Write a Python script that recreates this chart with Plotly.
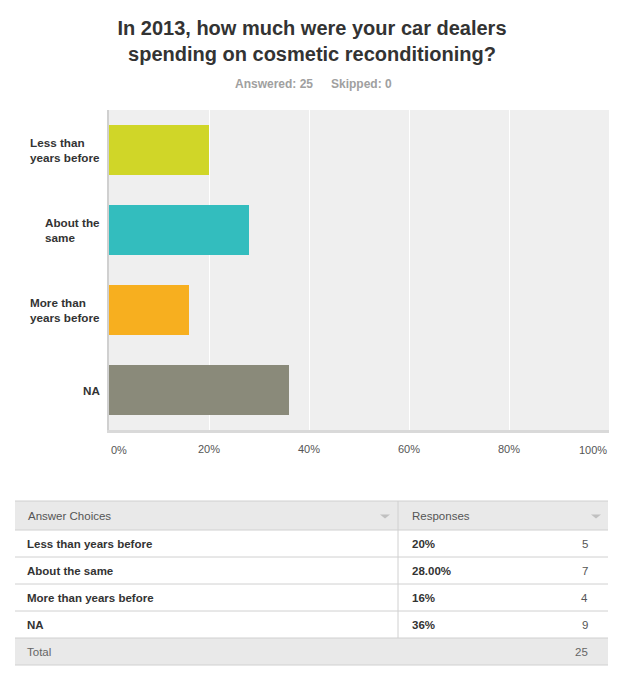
import plotly.graph_objects as go

# --- survey data ---
choices = ["Less than years before", "About the same", "More than years before", "NA"]
axis_labels = ["Less than<br>years before", "About the<br>same", "More than<br>years before", "NA"]
percents = [20, 28, 16, 36]
percent_text = ["20%", "28.00%", "16%", "36%"]
counts = [5, 7, 4, 9]
answered = 25
skipped = 0
bar_colors = ["#d0d628", "#33bdbe", "#f7af1f", "#8a8a7a"]
x_ticks = [0, 20, 40, 60, 80, 100]

# the page body has an 8px margin, so the figure starts at (8, 8)
OFF = 8
W, H = 628 - OFF, 683 - OFF
FONT = "Arial, Liberation Sans, sans-serif"


# screen pixel -> paper helpers (margins are zero, so paper == whole figure)
def px(x):
    return (x - OFF) / W


def py(y):
    return 1 - (y - OFF) / H


fig = go.Figure()
fig.add_trace(go.Bar(
    x=percents,
    y=choices,
    orientation="h",
    width=0.625,
    marker=dict(color=bar_colors, line=dict(width=0)),
    hoverinfo="skip",
))

annotations = []
shapes = []

# --- category labels, left aligned blocks ---
for cat, lab in zip(choices, axis_labels):
    annotations.append(dict(
        x=px(102), xref="paper", y=cat, yref="y",
        text=lab, showarrow=False, xanchor="right", yanchor="middle", align="left",
        font=dict(family=FONT, size=11.7, color="#333333", weight="bold"),
    ))

# end tick labels (first left aligned, last right aligned)
tick_font = dict(family=FONT, size=11, color="#555555")
annotations.append(dict(x=x_ticks[0], xref="x", y=py(450), yref="paper", text=f"{x_ticks[0]}%",
                        showarrow=False, xanchor="left", yanchor="middle", font=tick_font))
annotations.append(dict(x=x_ticks[-1], xref="x", y=py(450), yref="paper", text=f"{x_ticks[-1]}%",
                        showarrow=False, xanchor="right", yanchor="middle", font=tick_font))

# --- subtitle ---
annotations.append(dict(x=px(315), y=py(84), xref="paper", yref="paper", text=f"Answered: {answered}",
                        showarrow=False, xanchor="right", yanchor="middle",
                        font=dict(family=FONT, size=12, color="#a0a0a0", weight="bold")))
annotations.append(dict(x=px(329), y=py(84), xref="paper", yref="paper", text=f"Skipped: {skipped}",
                        showarrow=False, xanchor="left", yanchor="middle",
                        font=dict(family=FONT, size=12, color="#a0a0a0", weight="bold")))

# --- table below the chart ---
t_left, t_right, t_div = 15, 608, 398
head_top, head_bot = 501, 530
row_h = 27
line_col = "#d0d0d0"
head_fill = "#e9e9e9"

shapes.append(dict(type="rect", xref="paper", yref="paper", x0=px(t_left), x1=px(t_right),
                   y0=py(head_top), y1=py(head_bot), fillcolor=head_fill, line=dict(width=0), layer="below"))
total_top = head_bot + row_h * len(choices)
total_bot = total_top + row_h
shapes.append(dict(type="rect", xref="paper", yref="paper", x0=px(t_left), x1=px(t_right),
                   y0=py(total_top), y1=py(total_bot), fillcolor=head_fill, line=dict(width=0), layer="below"))

for yy in [head_top, head_bot] + [head_bot + row_h * (i + 1) for i in range(len(choices))] + [total_bot]:
    shapes.append(dict(type="line", xref="paper", yref="paper", x0=px(t_left), x1=px(t_right),
                       y0=py(yy), y1=py(yy), line=dict(color=line_col, width=1)))
shapes.append(dict(type="line", xref="paper", yref="paper", x0=px(t_div), x1=px(t_div),
                   y0=py(head_top), y1=py(total_top), line=dict(color=line_col, width=1)))

head_mid = (head_top + head_bot) / 2
annotations.append(dict(x=px(26), y=py(head_mid), xref="paper", yref="paper", text="Answer Choices",
                        showarrow=False, xanchor="left", yanchor="middle",
                        font=dict(family=FONT, size=11.5, color="#555555")))
annotations.append(dict(x=px(410), y=py(head_mid), xref="paper", yref="paper", text="Responses",
                        showarrow=False, xanchor="left", yanchor="middle",
                        font=dict(family=FONT, size=11.5, color="#555555")))
# sort arrows in the header
for tx in (385, 596):
    x0, x1, xm = px(tx - 5), px(tx + 5), px(tx)
    ya, yb = py(head_mid - 1), py(head_mid + 3)
    shapes.append(dict(type="path", xref="paper", yref="paper",
                       path=f"M {x0} {ya} L {x1} {ya} L {xm} {yb} Z",
                       fillcolor="#c0c0c0", line=dict(width=0)))

for i, (name, ptxt, cnt) in enumerate(zip(choices, percent_text, counts)):
    mid = head_bot + row_h * i + row_h / 2
    annotations.append(dict(x=px(25), y=py(mid), xref="paper", yref="paper", text=name,
                            showarrow=False, xanchor="left", yanchor="middle",
                            font=dict(family=FONT, size=11.5, color="#333333", weight="bold")))
    annotations.append(dict(x=px(410), y=py(mid), xref="paper", yref="paper", text=ptxt,
                            showarrow=False, xanchor="left", yanchor="middle",
                            font=dict(family=FONT, size=11.5, color="#333333", weight="bold")))
    annotations.append(dict(x=px(590), y=py(mid), xref="paper", yref="paper", text=str(cnt),
                            showarrow=False, xanchor="right", yanchor="middle",
                            font=dict(family=FONT, size=11.5, color="#555555")))

total_mid = (total_top + total_bot) / 2
annotations.append(dict(x=px(25), y=py(total_mid), xref="paper", yref="paper", text="Total",
                        showarrow=False, xanchor="left", yanchor="middle",
                        font=dict(family=FONT, size=11.5, color="#666666")))
annotations.append(dict(x=px(590), y=py(total_mid), xref="paper", yref="paper", text=str(sum(counts)),
                        showarrow=False, xanchor="right", yanchor="middle",
                        font=dict(family=FONT, size=11.5, color="#666666")))

fig.update_layout(
    width=W,
    height=H,
    autosize=False,
    margin=dict(l=0, r=0, t=0, b=0),
    paper_bgcolor="white",
    plot_bgcolor="#efefef",
    showlegend=False,
    font=dict(family=FONT, color="#333333"),
    title=dict(
        text="In 2013, how much were your car dealers<br>spending on cosmetic reconditioning?",
        x=px(312), xanchor="center", xref="paper",
        y=py(35), yanchor="middle", yref="paper",
        font=dict(family=FONT, size=20, color="#333333", weight="bold"),
    ),
    xaxis=dict(
        domain=[px(109), px(609)],
        range=[0, 100],
        tickvals=x_ticks[1:-1],
        ticktext=[f"{v}%" for v in x_ticks[1:-1]],
        tickfont=tick_font,
        ticks="",
        ticklabelstandoff=7,
        showgrid=True,
        gridcolor="white",
        gridwidth=1,
        zeroline=False,
        showline=True,
        linecolor="#d9d9d9",
        linewidth=3,
        fixedrange=True,
        automargin=False,
    ),
    yaxis=dict(
        domain=[py(430), py(110)],
        type="category",
        categoryorder="array",
        categoryarray=choices,
        autorange="reversed",
        showticklabels=False,
        ticks="",
        showgrid=False,
        zeroline=False,
        showline=True,
        linecolor="#d0d0d0",
        linewidth=2,
        fixedrange=True,
        automargin=False,
    ),
    annotations=annotations,
    shapes=shapes,
)

fig.write_html("out.html")
